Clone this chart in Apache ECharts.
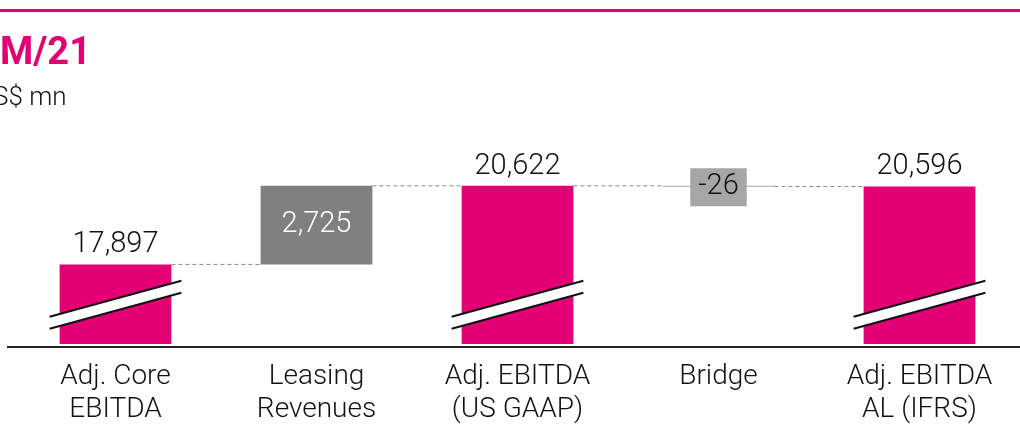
<!DOCTYPE html>
<html><head><meta charset="utf-8">
<script src="https://cdn.jsdelivr.net/npm/echarts@6/dist/echarts.min.js"></script>
<style>html,body{margin:0;padding:0;background:#fff}#c{width:1020px;height:426px}</style>
</head><body><div id="c"></div>
<script>
const categories = ['Adj. Core\nEBITDA', 'Leasing\nRevenues', 'Adj. EBITDA\n(US GAAP)', 'Bridge', 'Adj. EBITDA\nAL (IFRS)'];
const values = [17897, 2725, 20622, -26, 20596];
const barKinds = ['total', 'delta', 'total', 'delta', 'total'];
const valueLabels = ['17,897', '2,725', '20,622', '-26', '20,596'];
const axisMin = 15140;
const axisMax = 22000;
const breakValue = 16500;

const MAG = '#e20074';
const FONT = 'Roboto, "Liberation Sans", sans-serif';

const barData = [];
const connData = [];
const breakData = [];
let running = 0;
values.forEach((v, i) => {
  let low, high, end;
  if (barKinds[i] === 'total') { low = axisMin; high = v; end = v; breakData.push([i, breakValue]); }
  else { const s = running; end = s + v; low = Math.min(s, end); high = Math.max(s, end); }
  running = end;
  barData.push([i, low, high, i]);
  if (i < values.length - 1) connData.push([i, end]);
});

const chart = echarts.init(document.getElementById('c'), null, {renderer: 'canvas'});
const BAR_FRAC = 0.556;
const VFONT = '300 29px ' + FONT;

chart.setOption({
  animation: false,
  graphic: [
    {type: 'rect', shape: {x: 0, y: 9, width: 1020, height: 3}, style: {fill: MAG}},
    {type: 'text', x: 0, y: 35, style: {text: 'M/21', font: 'bold 38px ' + FONT, fill: MAG}},
    {type: 'text', x: -24, y: 85, style: {text: 'US$ mn', font: '300 26px ' + FONT, fill: '#111'}},
    {type: 'rect', shape: {x: 7, y: 346, width: 1013, height: 2}, style: {fill: '#222'}, z: 10}
  ],
  grid: {left: 15, right: -3, top: 146, bottom: 79},
  xAxis: {
    type: 'category', data: categories,
    axisLine: {show: false}, axisTick: {show: false},
    axisLabel: {fontFamily: FONT, fontWeight: 300, fontSize: 28, lineHeight: 33, color: '#111', margin: 16, interval: 0}
  },
  yAxis: {type: 'value', min: axisMin, max: axisMax, show: false, splitLine: {show: false}},
  series: [
    {
      type: 'custom', data: connData, z: 1,
      renderItem: (params, api) => {
        const i = api.value(0), lvl = api.value(1);
        const p = api.coord([i, lvl]), q = api.coord([i + 1, lvl]);
        const hw = api.size([1, 0])[0] * BAR_FRAC / 2;
        return {type: 'line', shape: {x1: p[0] + hw, y1: p[1], x2: q[0] - hw, y2: q[1]},
          style: {stroke: '#8a8a8a', lineWidth: 1, lineDash: [4, 3]}};
      }
    },
    {
      type: 'custom', data: barData, z: 2,
      renderItem: (params, api) => {
        const i = api.value(0), lo = api.value(1), hi = api.value(2);
        const p0 = api.coord([i, lo]), p1 = api.coord([i, hi]);
        const w = api.size([1, 0])[0] * BAR_FRAC;
        const x = p0[0] - w / 2;
        const kind = barKinds[i];
        const children = [];
        let fill = MAG;
        if (kind === 'delta') fill = values[i] < 0 ? '#a3a3a3' : '#808080';
        const h = Math.max(1, p0[1] - p1[1]);
        children.push({type: 'rect', shape: {x: x, y: p1[1], width: w, height: h}, style: {fill: fill}});
        if (kind === 'total') {
          children.push({type: 'text', x: p0[0], y: p1[1] - 5, style: {text: valueLabels[i], font: VFONT, fill: '#111', align: 'center', verticalAlign: 'bottom'}});
        } else if (values[i] >= 0) {
          children.push({type: 'text', x: p0[0], y: (p0[1] + p1[1]) / 2, style: {text: valueLabels[i], font: VFONT, fill: '#fff', align: 'center', verticalAlign: 'middle'}});
        } else {
          children.push({type: 'text', x: p0[0], y: (p0[1] + p1[1]) / 2 + 1, style: {text: valueLabels[i], font: VFONT, fill: '#111', align: 'center', verticalAlign: 'middle', backgroundColor: '#a6a6a6', padding: [5, 8, 4, 8]}});
        }
        return {type: 'group', children: children};
      }
    },
    {
      type: 'custom', data: breakData, z: 3,
      renderItem: (params, api) => {
        const i = api.value(0), v = api.value(1);
        const c = api.coord([i, v]);
        const w = api.size([1, 0])[0] * BAR_FRAC;
        const hx = w / 2 + 10, dy = 18, t = 6;
        return {type: 'group', children: [
          {type: 'polygon', shape: {points: [[c[0] - hx, c[1] + dy - t], [c[0] + hx, c[1] - dy - t], [c[0] + hx, c[1] - dy + t], [c[0] - hx, c[1] + dy + t]]}, style: {fill: '#fff'}},
          {type: 'line', shape: {x1: c[0] - hx, y1: c[1] + dy - t, x2: c[0] + hx, y2: c[1] - dy - t}, style: {stroke: '#111', lineWidth: 2}},
          {type: 'line', shape: {x1: c[0] - hx, y1: c[1] + dy + t, x2: c[0] + hx, y2: c[1] - dy + t}, style: {stroke: '#111', lineWidth: 2}}
        ]};
      }
    }
  ]
});
</script></body></html>
